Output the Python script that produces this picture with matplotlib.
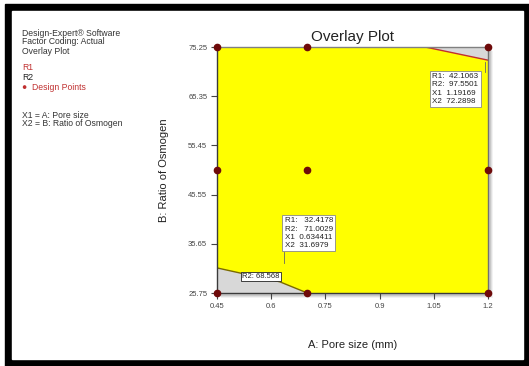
import numpy as np
import matplotlib.pyplot as plt
from matplotlib.patches import Rectangle, Polygon

plt.rcParams['font.family'] = ['Liberation Sans', 'DejaVu Sans']

W, H = 529, 366

# Faktorbereiche
x_ticks = [0.45, 0.6, 0.75, 0.9, 1.05, 1.2]
x_tick_labels = ['0.45', '0.6', '0.75', '0.9', '1.05', '1.2']
y_ticks = [25.75, 35.65, 45.55, 55.45, 65.35, 75.25]
y_tick_labels = ['25.75', '35.65', '45.55', '55.45', '65.35', '75.25']

# design points
design_x = [0.45, 0.70, 1.2, 0.45, 0.70, 1.2, 0.45, 0.70, 1.2]
design_y = [25.75, 25.75, 25.75, 50.5, 50.5, 50.5, 75.25, 75.25, 75.25]

# contour boundaries (R2 lower-left, R1 upper-right)
r2_x = [0.45, 0.624, 0.70]
r2_y = [30.8, 28.0, 25.75]
r1_x = [1.026, 1.2]
r1_y = [75.25, 72.6]

# flags
flag1_x, flag1_y = 1.19169, 72.2898
flag1_text = "R1:  42.1063\nR2:  97.5501\nX1  1.19169\nX2  72.2898"
flag2_x, flag2_y = 0.634411, 31.6979
flag2_text = "R1:   32.4178\nR2:   71.0029\nX1  0.634411\nX2  31.6979"

fig = plt.figure(figsize=(W / 100, H / 100), dpi=100)
fig.patch.set_facecolor('white')


def px(x0, y0, x1, y1):
    return (x0 / W, 1 - y1 / H), (x1 - x0) / W, (y1 - y0) / H


# black frame
xy, w, h = px(5, 4, 529, 366)
fig.patches.append(Rectangle(xy, w, h, transform=fig.transFigure, color='black', zorder=-20))
xy, w, h = px(12, 11, 523, 359)
fig.patches.append(Rectangle(xy, w, h, transform=fig.transFigure, color='white', zorder=-19))
# soft shadow behind the plot area
for i, a in enumerate([0.10, 0.08, 0.05]):
    xy, w, h = px(219 + i, 49 + i, 491 + i, 296 + i)
    fig.patches.append(Rectangle(xy, w, h, transform=fig.transFigure,
                                 color='black', alpha=a, lw=0, zorder=-18))

ax = fig.add_axes([217 / W, 1 - 293 / H, 271 / W, 246 / H])
ax.set_facecolor('#d8d8d8')
ax.set_xlim(0.45, 1.2)
ax.set_ylim(25.75, 75.25)

# yellow feasible region
region = [(r2_x[0], r2_y[0]), (0.45, 75.25)] + list(zip(r1_x, r1_y)) + \
         [(1.2, 25.75)] + list(zip(r2_x[::-1], r2_y[::-1]))
ax.add_patch(Polygon(region, closed=True, facecolor='#ffff00', edgecolor='none', zorder=1))
ax.plot(r2_x, r2_y, color='#7a6a00', lw=1.0, zorder=2)
ax.plot(r1_x, r1_y, color='#c03030', lw=1.0, zorder=2)

ax.plot(design_x, design_y, 'o', color='#6e0a0a', ms=4.5, zorder=5, clip_on=False)

for s in ax.spines.values():
    s.set_color('#3a3a3a')
    s.set_linewidth(1.0)
ax.spines['top'].set_color('#808080')
ax.spines['right'].set_color('#707070')

ax.set_xticks(x_ticks)
ax.set_xticklabels(x_tick_labels)
ax.set_yticks(y_ticks)
ax.set_yticklabels(y_tick_labels)
ax.tick_params(labelsize=5.5, colors='#444444', length=4, width=0.8, pad=3)

ax.set_title('Overlay Plot', fontsize=11, color='#222222', pad=4)
ax.set_xlabel('A: Pore size (mm)', fontsize=8, color='#222222', labelpad=22)
ax.set_ylabel('B: Ratio of Osmogen', fontsize=8, color='#222222', labelpad=14)

# flags
box = dict(boxstyle='square,pad=0.3', facecolor='white', edgecolor='#888888', lw=0.6)
ax.plot([flag1_x, flag1_x], [flag1_y, 70.2], color='#666666', lw=0.6, zorder=3)
ax.text(1.046, 70.0, flag1_text, fontsize=5.8, va='top', ha='left', color='#222222',
        bbox=box, zorder=6, linespacing=1.25)
ax.plot([flag2_x, flag2_x], [flag2_y, 34.0], color='#666666', lw=0.6, zorder=3)
ax.text(0.637, 34.6, flag2_text, fontsize=5.8, va='bottom', ha='left', color='#222222',
        bbox=box, zorder=6, linespacing=1.25)
ax.text(0.572, 29.07, 'R2: 68.568', fontsize=5.5, ha='center', va='center', color='#222222',
        bbox=dict(boxstyle='square,pad=0.15', facecolor='white', edgecolor='#222222', lw=0.6),
        zorder=6)

# info block at the left
info = [
    ('Design-Expert® Software', 33, '#333333'),
    ('Factor Coding: Actual', 42, '#333333'),
    ('Overlay Plot', 51, '#333333'),
    ('R1', 68, '#c03030'),
    ('R2', 77, '#222222'),
    ('●  Design Points', 87, '#c03030'),
    ('X1 = A: Pore size', 115, '#333333'),
    ('X2 = B: Ratio of Osmogen', 123, '#333333'),
]
for txt, y, c in info:
    fig.text(22 / W, 1 - y / H, txt, fontsize=6.2, color=c, va='center', ha='left')

fig.savefig('out.png', dpi=100)
